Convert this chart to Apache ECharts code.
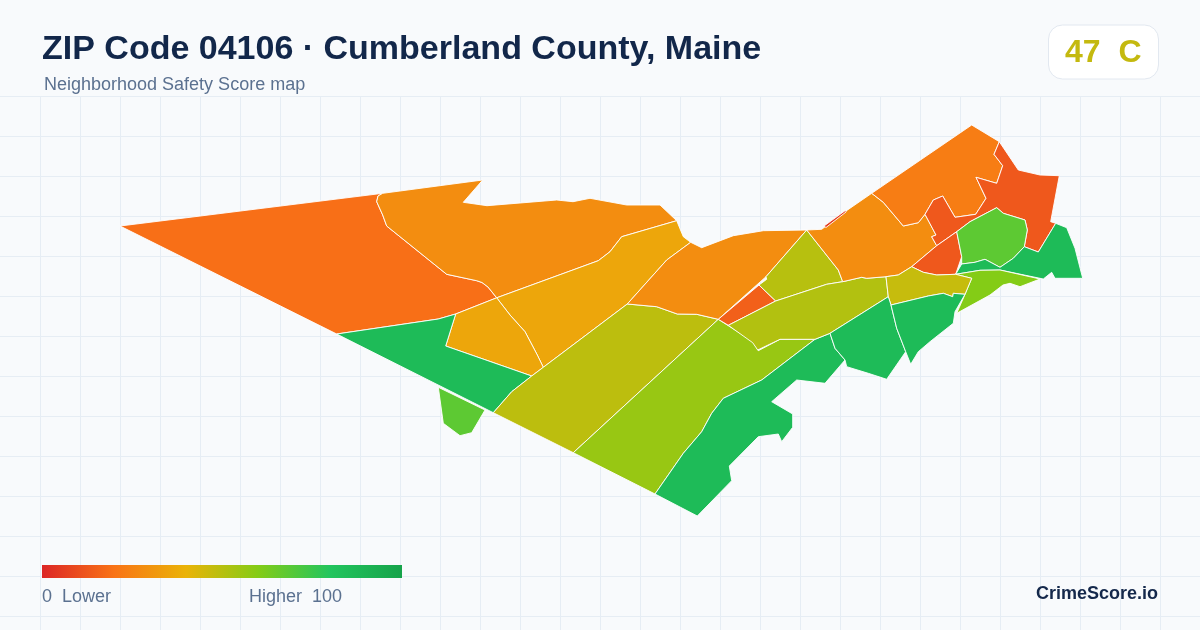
<!DOCTYPE html>
<html>
<head>
<meta charset="utf-8">
<title>ZIP Code 04106</title>
<style>
  html, body { margin: 0; padding: 0; background: #f8fafc; }
  #chart { width: 1200px; height: 630px; }
</style>
<script src="https://cdn.jsdelivr.net/npm/echarts@6/dist/echarts.min.js"></script>
</head>
<body>
<div id="chart"></div>
<script>
var tractNames = ['west', 'north', 'ridge', 'pocket', 'southwest', 'cove', 'mid', 'lime', 'shore',
  'central', 'notch', 'hill', 'long', 'eastmid', 'northeast', 'cape', 'capeSouth',
  'park', 'point', 'strip', 'village', 'beach', 'harbor', 'sliver'];
var tractScores = [19, 28, 36, 36, 86, 68, 49, 56, 86, 28, 15, 50, 51, 28, 23, 13, 13, 68, 86, 60, 47, 86, 86, 6];
var scoreStops = ['#dc2626', '#f97316', '#eab308', '#84cc16', '#22c55e', '#16a34a'];

var tractRings = {
  west: [[120,226],[382.7,193.3],[378,196],[376.7,201.7],[382.7,215],[386.7,226],[446.7,274.3],[476.7,280.7],[482,282.5],[488,287],[496.7,297.8],[455.7,314],[438.3,319],[336.7,334]],
  north: [[382.7,193.3],[482.7,180],[463.3,202.3],[487,205.7],[556.7,200],[573,201.7],[590,198.3],[626.7,205],[660,205],[676.7,220.7],[621.7,236.7],[610,251.7],[598.3,260.7],[496.7,297.8],[488,287],[482,282.5],[476.7,280.7],[446.7,274.3],[386.7,226],[382.7,215],[376.7,201.7],[378,196]],
  ridge: [[496.7,297.8],[598.3,260.7],[610,251.7],[621.7,236.7],[676.7,220.7],[683.3,236.7],[690.7,242.3],[666.7,260],[627.3,304],[543.3,367.3],[537.3,355],[525,331.7],[510,315]],
  pocket: [[455.7,314],[496.7,297.8],[510,315],[525,331.7],[537.3,355],[543.3,367.3],[531.7,376],[445.7,346]],
  southwest: [[336.7,334],[438.3,319],[455.7,314],[445.7,346],[531.7,376],[511.7,391.7],[493.3,412.7]],
  cove: [[438.3,387.3],[485,410],[471.7,432.7],[460,435.7],[443.3,423.3]],
  mid: [[493.3,412.7],[511.7,391.7],[531.7,376],[543.3,367.3],[627.3,304],[656.7,306.7],[677.3,314],[696.7,314.3],[718.3,319.3],[573.3,452.7]],
  lime: [[573.3,452.7],[718.3,319.3],[753.3,341.7],[758.3,350.7],[780,339.3],[815,339.3],[761.7,380],[723.3,398.3],[711.7,413.3],[701.7,431.7],[683.3,453.3],[655,494]],
  shore: [[655,494],[683.3,453.3],[701.7,431.7],[711.7,413.3],[723.3,398.3],[761.7,380],[815,339.3],[830,333.3],[835,348.3],[845,360],[825,383.3],[796.7,380],[771.7,401.7],[792.7,414],[792.7,427.3],[781.7,441.7],[778.3,434],[758.3,436.7],[729.3,466],[731.7,480.7],[697.3,516]],
  central: [[627.3,304],[666.7,260],[690.7,242.3],[701.7,247.7],[733.3,235.7],[763.3,230.7],[806.7,230],[766,276.7],[718.3,319.3],[696.7,314.3],[677.3,314],[656.7,306.7]],
  sliver: [[824,226],[846,210],[846,212],[826,227.5]],
  notch: [[759,285],[775.7,301],[728.3,325.3],[718.3,319.3]],
  hill: [[806.7,230],[838.3,270],[842.7,281.7],[826.7,284.3],[775.7,301],[759,285],[766.7,279.3],[766,276.7]],
  long: [[728.3,325.3],[775.7,301],[826.7,284.3],[842.7,281.7],[861.7,277.3],[866.7,278.3],[886,276.7],[888.3,296.7],[830,333.3],[815,339.3],[780,339.3],[757.7,350],[752.7,342.7]],
  eastmid: [[806.7,230],[821.7,229.3],[845,211.7],[871.7,193.3],[883.3,202.3],[903.3,226],[918.3,222.7],[925,214.3],[936,235],[931.7,236.7],[936.7,245.7],[911.7,266.7],[898.3,275],[886,276.7],[866.7,278.3],[861.7,277.3],[842.7,281.7],[838.3,270]],
  northeast: [[871.7,193.3],[971.7,125],[999.3,141.7],[994,154.3],[1002.7,165.7],[996.7,183.3],[976,177.3],[986,198.3],[975.7,214.3],[955,217.3],[942.7,196],[933.3,200],[925,214.3],[918.3,222.7],[903.3,226],[883.3,202.3]],
  cape: [[999.3,141.7],[1018.3,170],[1040,175],[1059.3,175.7],[1050.7,221.7],[1055.7,223.3],[1038.3,252],[1024.3,246.7],[1027.3,230],[1025,220],[1003.3,213.3],[996.7,207.7],[970,221.7],[956.7,231.7],[936.7,245.7],[931.7,236.7],[936,235],[925,214.3],[933.3,200],[942.7,196],[955,217.3],[975.7,214.3],[986,198.3],[976,177.3],[996.7,183.3],[1002.7,165.7],[994,154.3]],
  capeSouth: [[956.7,231.7],[961.7,256.7],[955.7,274.3],[936.7,275],[923.3,272.3],[911.7,266.7],[936.7,245.7]],
  park: [[996.7,207.7],[1003.3,213.3],[1025,220],[1027.3,230],[1024.3,246.7],[1013.3,258.3],[1000,267.3],[985,259.3],[975,262.3],[961.7,264],[961.7,256.7],[956.7,231.7],[970,221.7]],
  point: [[1055.7,223.3],[1066.7,227.7],[1075,248.3],[1082.7,278.3],[1055,278.3],[1051.7,272.3],[1043.3,279],[1000,270],[980,270.3],[955.7,274.3],[961.7,264],[975,262.3],[985,259.3],[1000,267.3],[1013.3,258.3],[1024.3,246.7],[1038.3,252]],
  strip: [[955.7,274.3],[980,270.3],[1000,270],[1040,279],[1020,286.7],[1010,283.3],[1003,285],[990,295],[956.7,313.3],[965,294.3],[971.7,278.3]],
  village: [[886,276.7],[898.3,275],[911.7,266.7],[923.3,272.3],[936.7,275],[955.7,274.3],[971.7,278.3],[965,294.3],[953.3,293.3],[952.7,296.7],[943.3,293.3],[928.3,296],[891,305],[888.3,296.7]],
  beach: [[888.3,296.7],[891,305],[896.7,328.3],[905.7,351.7],[886.7,379.3],[868.3,373.3],[846.7,366.7],[845,360],[835,348.3],[830,333.3]],
  harbor: [[891,305],[928.3,296],[943.3,293.3],[952.7,296.7],[953.3,293.3],[965,294.3],[955,311.7],[953.3,323.3],[930,341.7],[918.3,351.7],[910.7,364.3],[905.7,351.7],[896.7,328.3]]
};

var features = tractNames.map(function (name) {
  var ring = tractRings[name].concat([tractRings[name][0]]);
  return {
    type: 'Feature',
    properties: { name: name },
    geometry: { type: 'Polygon', coordinates: [ring] }
  };
});
echarts.registerMap('zip04106', { type: 'FeatureCollection', features: features });

var mapData = tractNames.map(function (name, i) {
  return { name: name, value: tractScores[i] };
});

// legend bar uses the same stops as the visualMap
var legendGradient = new echarts.graphic.LinearGradient(0, 0, 1, 0, scoreStops.map(function (c, i) {
  return { offset: i / (scoreStops.length - 1), color: c };
}));

var option = {
  animation: false,
  backgroundColor: '#f8fafc',
  textStyle: { fontFamily: '"Liberation Sans", Arial, sans-serif' },
  title: [
    {
      text: 'ZIP Code 04106 · Cumberland County, Maine',
      left: 42, top: 33, padding: 0,
      textStyle: { fontSize: 34, fontWeight: 'bold', color: '#12274a', fontFamily: '"Liberation Sans"' }
    },
    {
      text: 'Neighborhood Safety Score map',
      left: 44, top: 76, padding: 0,
      textStyle: { fontSize: 18, fontWeight: 'normal', color: '#5b7190', fontFamily: '"Liberation Sans"' }
    }
  ],
  grid: { left: 0, right: 0, top: 96, bottom: 0 },
  xAxis: {
    type: 'value', min: 0, max: 1200, interval: 40,
    axisLine: { show: false }, axisTick: { show: false }, axisLabel: { show: false },
    splitLine: { showMinLine: false, lineStyle: { color: '#e6edf4', width: 1 } }
  },
  yAxis: {
    type: 'value', min: 0, max: 534, interval: 40, inverse: true,
    axisLine: { show: false }, axisTick: { show: false }, axisLabel: { show: false },
    splitLine: { lineStyle: { color: '#e6edf4', width: 1 } }
  },
  visualMap: {
    type: 'continuous',
    show: false,
    seriesIndex: 0,
    min: 0, max: 100,
    inRange: { color: scoreStops }
  },
  series: [{
    type: 'map',
    map: 'zip04106',
    projection: {
      project: function (p) { return p; },
      unproject: function (p) { return p; }
    },
    left: 120, top: 125, width: 962.7, height: 391,
    aspectScale: 1,
    silent: true,
    label: { show: false },
    itemStyle: { borderColor: '#ffffff', borderWidth: 0.9 },
    data: mapData
  }],
  graphic: [
    {
      type: 'rect', left: 42, top: 565, z: 100,
      shape: { width: 360, height: 13 },
      style: { fill: legendGradient }
    },
    {
      type: 'rect', left: 1048, top: 24.5, z: 100,
      shape: { width: 110, height: 54, r: 14 },
      style: { fill: '#ffffff', stroke: '#e2e8f0', lineWidth: 1 }
    },
    {
      type: 'text', left: 1065, top: 37, z: 101,
      style: { text: '47  C', fontSize: 32, fontWeight: 'bold', fontFamily: '"Liberation Sans"', fill: '#c4b90f' }
    },
    {
      type: 'text', left: 42, top: 588, z: 100,
      style: { text: '0  Lower', fontSize: 18, fontFamily: '"Liberation Sans"', fill: '#5b7190' }
    },
    {
      type: 'text', left: 249, top: 588, z: 100,
      style: { text: 'Higher  100', fontSize: 18, fontFamily: '"Liberation Sans"', fill: '#5b7190' }
    },
    {
      type: 'text', right: 42, top: 585, z: 100,
      style: { text: 'CrimeScore.io', fontSize: 18, fontWeight: 'bold', fontFamily: '"Liberation Sans"', fill: '#14284b' }
    }
  ]
};

var chart = echarts.init(document.getElementById('chart'));
chart.setOption(option);

window.addEventListener('resize', function () {
  chart.resize();
});
</script>
</body>
</html>
